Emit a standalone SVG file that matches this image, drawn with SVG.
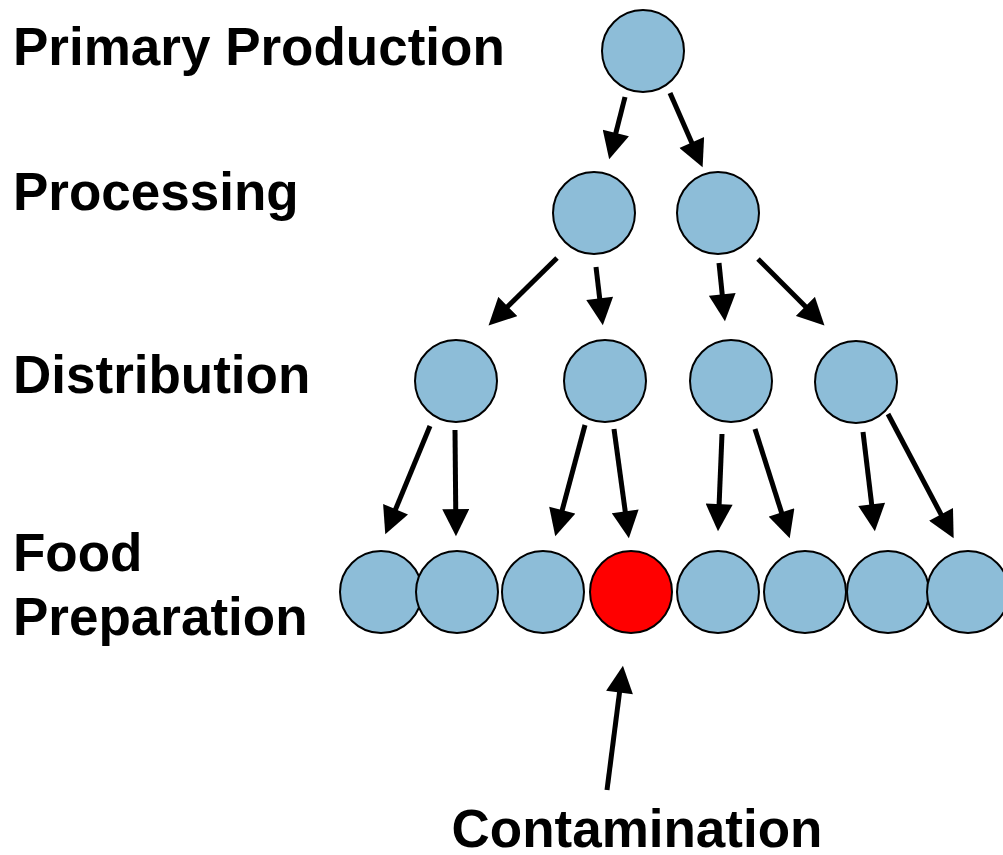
<svg xmlns="http://www.w3.org/2000/svg" width="1003" height="855" viewBox="0 0 1003 855">
<defs>
<style>
.lbl{font-family:"Liberation Sans",Arial,sans-serif;font-weight:bold;font-size:53px;fill:#000}
.n{fill:#8DBDD8;stroke:#000;stroke-width:2}
.r{fill:#FF0000;stroke:#000;stroke-width:2}
.a{stroke:#000;stroke-width:5;fill:none;marker-end:url(#ah)}
</style>
<marker id="ah" viewBox="0 0 10 10" refX="2.9" refY="5" markerWidth="28" markerHeight="27" markerUnits="userSpaceOnUse" orient="auto">
<path d="M0,0 L10,5 L0,10 z" fill="#000"/>
</marker>
</defs>
<rect width="1003" height="855" fill="#fff"/>
<g id="labels">
<text class="lbl" x="13" y="65">Primary Production</text>
<text class="lbl" x="13" y="210">Processing</text>
<text class="lbl" x="13" y="393">Distribution</text>
<text class="lbl" x="13" y="571">Food</text>
<text class="lbl" x="13" y="635">Preparation</text>
<text class="lbl" x="637" y="847" text-anchor="middle">Contamination</text>
</g>
<g id="connectors">
<line class="a" x1="625" y1="97" x2="613.9" y2="140.6"/>
<line class="a" x1="670" y1="93" x2="694.9" y2="149.7"/>
<line class="a" x1="557" y1="258" x2="502.2" y2="312"/>
<line class="a" x1="596" y1="267" x2="600.6" y2="306.1"/>
<line class="a" x1="719" y1="263" x2="723" y2="302.1"/>
<line class="a" x1="758" y1="259" x2="810.9" y2="311.9"/>
<line class="a" x1="430" y1="426" x2="392.6" y2="516.5"/>
<line class="a" x1="455" y1="430" x2="455.8" y2="517"/>
<line class="a" x1="585" y1="425" x2="560.2" y2="517.7"/>
<line class="a" x1="614" y1="429" x2="626.3" y2="519.2"/>
<line class="a" x1="722" y1="434" x2="718.8" y2="512"/>
<line class="a" x1="755" y1="429" x2="783.9" y2="519.9"/>
<line class="a" x1="863" y1="432" x2="872.6" y2="512.1"/>
<line class="a" x1="888" y1="414" x2="944.7" y2="521.3"/>
<line class="a" x1="607" y1="790" x2="620.5" y2="684.8"/>
</g>
<g id="primary"><circle class="n" cx="643" cy="51" r="41"/></g>
<g id="proc1"><circle class="n" cx="594" cy="213" r="41"/></g>
<g id="proc2"><circle class="n" cx="718" cy="213" r="41"/></g>
<g id="dist1"><circle class="n" cx="456" cy="381" r="41"/></g>
<g id="dist2"><circle class="n" cx="605" cy="381" r="41"/></g>
<g id="dist3"><circle class="n" cx="731" cy="381" r="41"/></g>
<g id="dist4"><circle class="n" cx="856" cy="382" r="41"/></g>
<g id="food1"><circle class="n" cx="381" cy="592" r="41"/></g>
<g id="food2"><circle class="n" cx="457" cy="592" r="41"/></g>
<g id="food3"><circle class="n" cx="543" cy="592" r="41"/></g>
<g id="food4"><circle class="r" cx="631" cy="592" r="41"/></g>
<g id="food5"><circle class="n" cx="718" cy="592" r="41"/></g>
<g id="food6"><circle class="n" cx="805" cy="592" r="41"/></g>
<g id="food7"><circle class="n" cx="888" cy="592" r="41"/></g>
<g id="food8"><circle class="n" cx="968" cy="592" r="41"/></g>
</svg>
